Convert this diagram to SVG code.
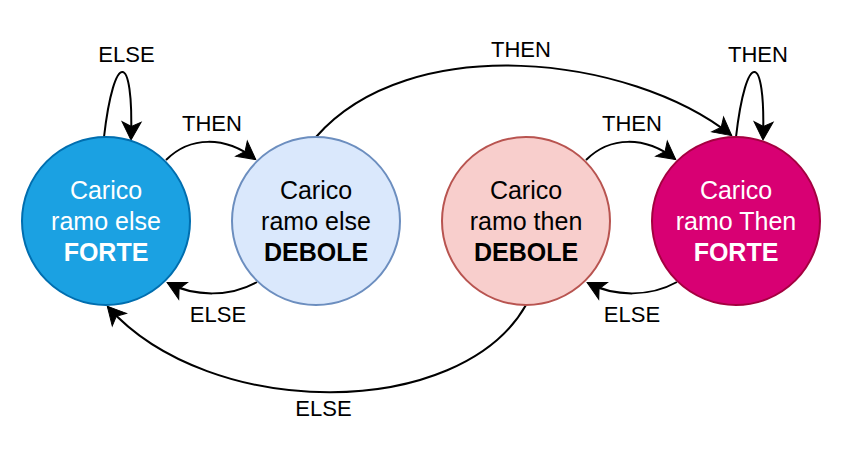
<svg xmlns="http://www.w3.org/2000/svg" width="857" height="457" viewBox="0 0 857 457">
<style>
.node{stroke-width:2}
.nt{font-family:"Liberation Sans",Arial,sans-serif;font-size:25px;text-anchor:middle}
.b{font-weight:bold}
.edge{fill:none;stroke:#000;stroke-width:2;marker-end:url(#arr)}
.lbl{font-family:"Liberation Sans",Arial,sans-serif;font-size:22px;text-anchor:middle;fill:#000}
</style>
<defs>
<marker id="arr" markerUnits="userSpaceOnUse" viewBox="-19 -11 21 22" refX="0" refY="0" markerWidth="21" markerHeight="22" orient="auto" overflow="visible">
<path d="M1,0 L-17,-9.5 L-12.5,0 L-17,9.5 Z" fill="#000" stroke="#000" stroke-width="1" stroke-linejoin="miter"/>
</marker>
</defs>
<rect width="857" height="457" fill="#fff"/>
<g id="connectors">
<path class="edge" d="M104,137 C114,50 134,50 131,139"/>
<path class="edge" d="M166,160 C190,136 225,136 255,159"/>
<path class="edge" d="M257,282 C230,297 195,297 168,283"/>
<path class="edge" d="M316,137 C410,30 630,55 731,135"/>
<path class="edge" d="M586,160 C610,136 645,136 675,159"/>
<path class="edge" d="M736,137 C746,50 766,50 763,139"/>
<path class="edge" d="M677,282 C650,297 615,297 588,283"/>
<path class="edge" d="M526,305 C460,421 210,421 108,307"/>
<text class="lbl" x="126.5" y="62">ELSE</text>
<text class="lbl" x="212" y="131">THEN</text>
<text class="lbl" x="218" y="321.5">ELSE</text>
<text class="lbl" x="521" y="56.5">THEN</text>
<text class="lbl" x="632" y="131">THEN</text>
<text class="lbl" x="758" y="61.5">THEN</text>
<text class="lbl" x="632" y="321.5">ELSE</text>
<text class="lbl" x="323.5" y="415.5">ELSE</text>
</g>
<g id="n1">
<circle class="node" cx="106" cy="221" r="84" fill="#1BA1E2" stroke="#006EAF"/>
<text class="nt" fill="#fff"><tspan x="106" y="199">Carico</tspan><tspan x="106" y="230">ramo else</tspan><tspan class="b" x="106" y="261">FORTE</tspan></text>
</g>
<g id="n2">
<circle class="node" cx="316" cy="221" r="84" fill="#DAE8FC" stroke="#6C8EBF"/>
<text class="nt" fill="#000"><tspan x="316" y="199">Carico</tspan><tspan x="316" y="230">ramo else</tspan><tspan class="b" x="316" y="261">DEBOLE</tspan></text>
</g>
<g id="n3">
<circle class="node" cx="526" cy="221" r="84" fill="#F8CECC" stroke="#B85450"/>
<text class="nt" fill="#000"><tspan x="526" y="199">Carico</tspan><tspan x="526" y="230">ramo then</tspan><tspan class="b" x="526" y="261">DEBOLE</tspan></text>
</g>
<g id="n4">
<circle class="node" cx="736" cy="221" r="84" fill="#D80073" stroke="#A50040"/>
<text class="nt" fill="#fff"><tspan x="736" y="199">Carico</tspan><tspan x="736" y="230">ramo Then</tspan><tspan class="b" x="736" y="261">FORTE</tspan></text>
</g>
</svg>
